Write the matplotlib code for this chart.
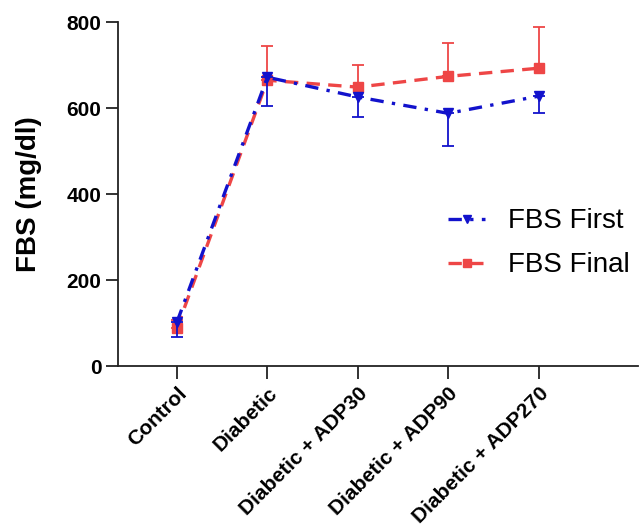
import numpy as np
import matplotlib
matplotlib.use('agg')
from matplotlib import pyplot as plt

# Data
groups = ["Control", "Diabetic", "Diabetic + ADP30", "Diabetic + ADP90", "Diabetic + ADP270"]
fbs_first = [102, 672, 626, 588, 628]
fbs_first_sd = [35, 67, 47, 76, 40]
fbs_final = [88, 665, 649, 674, 693]
fbs_final_sd = [20, 79, 51, 77, 96]

blue = '#1212CC'
red = '#EE4646'

plt.rcParams['font.family'] = ['Liberation Sans', 'DejaVu Sans']

fig = plt.figure(figsize=(6.42, 5.29), dpi=100)
ax = fig.add_axes([0.184, 0.308, 0.810, 0.650])

x = np.arange(len(groups))
zeros = np.zeros(len(groups))

# FBS Final: error bars upward only
ax.errorbar(x, fbs_final, yerr=[zeros, fbs_final_sd], fmt='none', ecolor=red,
            elinewidth=1.3, capsize=4, capthick=1.3, zorder=2)
ax.plot(x, fbs_final, color=red, linewidth=2.4, dashes=(4, 2.5),
        marker='s', markersize=7, label='FBS Final', zorder=3)

# FBS First: error bars downward only
ax.errorbar(x, fbs_first, yerr=[fbs_first_sd, zeros], fmt='none', ecolor=blue,
            elinewidth=1.3, capsize=4, capthick=1.3, zorder=4)
ax.plot(x, fbs_first, color=blue, linewidth=2.4, dashes=(4, 2.5, 1, 2.5),
        marker='v', markersize=7, label='FBS First', zorder=5)

ax.set_ylim(0, 800)
ax.set_xlim(-0.65, 5.1)
ax.set_yticks([0, 200, 400, 600, 800])
ax.set_xticks(x)
ax.set_xticklabels(groups, rotation=45, ha='right', rotation_mode='anchor',
                   fontsize=15, fontweight='bold')
for lab in ax.get_yticklabels():
    lab.set_fontsize(15)
    lab.set_fontweight('bold')

ax.tick_params(axis='both', length=9, width=1.3, color='#222222')
ax.tick_params(axis='y', pad=3)
ax.tick_params(axis='x', pad=4)
for side in ['top', 'right']:
    ax.spines[side].set_visible(False)
for side in ['left', 'bottom']:
    ax.spines[side].set_linewidth(1.3)
    ax.spines[side].set_color('#222222')

ax.set_ylabel('FBS (mg/dl)', fontsize=20, fontweight='bold', labelpad=18)

handles, labels = ax.get_legend_handles_labels()
ax.legend([handles[1], handles[0]], [labels[1], labels[0]],
          loc='center left', bbox_to_anchor=(0.635, 0.357), frameon=False,
          borderpad=0, borderaxespad=0, markerscale=0.8,
          fontsize=20, handlelength=1.33, handletextpad=0.8, labelspacing=0.65)

plt.savefig('out.png', dpi=100)
